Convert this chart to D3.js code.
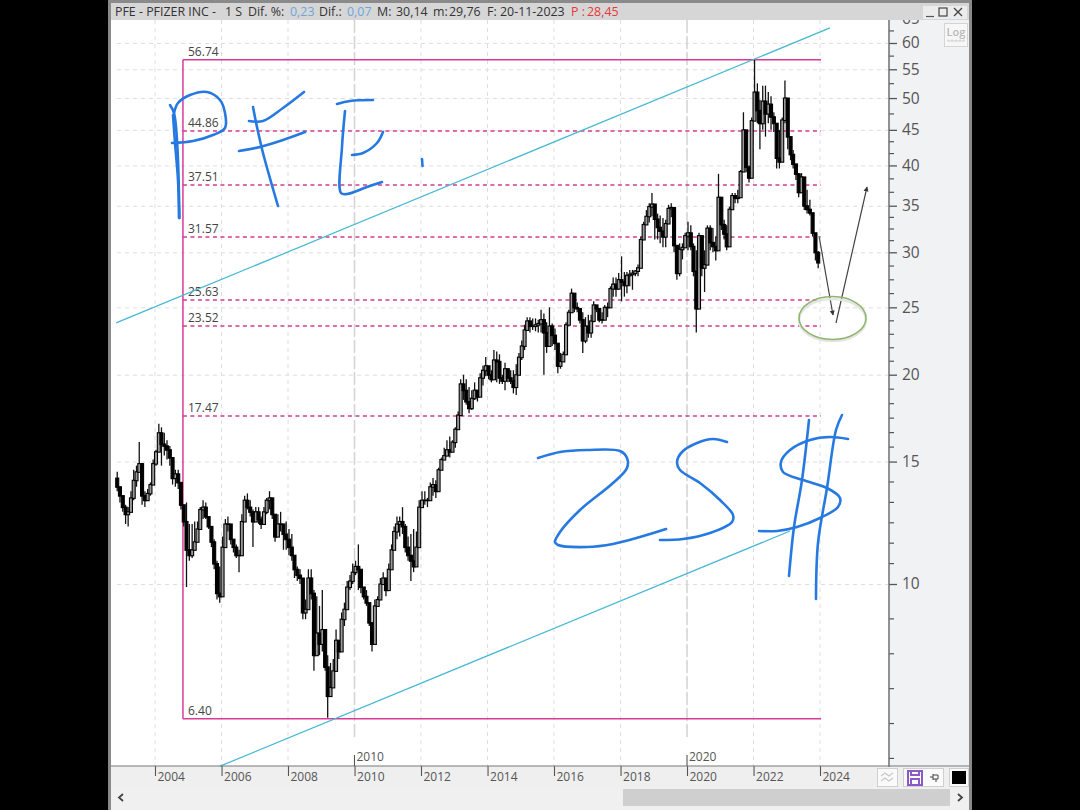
<!DOCTYPE html>
<html><head><meta charset="utf-8">
<script src="https://cdn.jsdelivr.net/npm/d3@7/dist/d3.min.js"></script>
<style>
html,body{margin:0;padding:0;background:#000;overflow:hidden}
text{font-family:"Open Sans",sans-serif}
</style></head><body><svg id="c" width="1080" height="810"></svg>
<script>
// ---- data, monthly summary ----
const firstMonth = new Date(2002, 10, 12);
const highs = [
14.5,13.8,13.3,13.0,12.9,13.6,14.6,14.8,16.0,14.3,
13.6,13.7,14.0,15.1,15.6,17.0,16.8,16.5,16.1,15.8,
14.8,14.6,14.6,13.9,13.0,13.1,12.2,12.2,12.3,12.3,
12.9,13.2,13.1,12.4,12.1,11.6,10.8,10.6,11.7,12.4,
12.5,12.0,11.6,11.4,11.2,12.6,13.4,13.5,13.2,12.8,
12.9,12.9,12.5,12.9,13.3,13.6,13.0,12.4,12.6,12.7,
12.2,12.3,12.0,11.8,10.9,10.6,10.5,10.1,9.5,10.5,
10.5,9.8,9.6,9.3,9.8,8.3,7.9,7.7,7.8,8.6,
8.3,9.1,9.4,10.1,10.3,10.7,10.8,11.4,10.2,9.9,
9.8,9.2,8.8,9.5,9.6,10.2,10.4,10.0,10.7,11.4,
12.1,12.5,12.5,12.9,12.2,11.7,11.8,12.0,11.9,13.2,
13.6,13.6,13.3,14.0,14.2,14.1,14.7,15.2,15.7,16.1,
16.3,16.1,16.8,17.7,19.7,20.0,19.7,19.2,19.0,19.5,
19.0,20.1,20.6,21.2,20.3,20.3,21.7,21.6,21.4,20.0,
20.8,20.3,20.3,20.3,20.7,21.5,22.4,23.6,24.2,24.2,
24.1,24.1,24.0,24.8,24.5,23.8,25.0,23.7,23.3,21.7,
21.5,21.6,23.8,24.8,26.6,25.9,25.4,24.6,24.6,24.2,
24.4,24.4,25.5,25.2,24.6,24.6,25.2,25.4,26.8,27.6,
27.6,28.0,29.6,28.1,28.1,28.3,28.3,28.3,28.8,31.6,
33.2,34.5,35.3,36.5,34.1,34.1,33.9,33.6,33.4,35.1,
35.3,33.7,29.6,30.9,30.9,32.0,33.2,32.8,30.9,30.2,
32.0,29.6,30.2,32.8,32.8,32.5,31.6,38.9,33.7,33.4,
32.8,34.9,36.5,36.5,36.9,39.4,47.7,40.4,40.0,46.9,
56.74,52.5,49.7,52.1,52.1,51.0,50.3,47.7,45.0,45.0,
46.9,53.0,49.7,42.5,42.1,39.9,39.0,39.0,36.9,36.9,
35.7,33.7,30.9,30.14];
const lows = [
13.6,13.1,12.7,12.2,12.1,12.8,13.2,13.8,14.6,13.0,
12.9,13.2,13.4,13.9,14.8,15.6,14.8,15.3,15.1,14.8,
13.9,13.8,13.7,12.8,12.1,9.9,10.8,10.9,11.2,11.6,
12.2,12.4,12.4,12.0,11.3,10.5,9.5,9.4,10.5,11.8,
11.9,11.4,11.1,10.9,10.4,11.3,12.6,12.8,12.5,11.3,
12.3,12.2,12.0,12.3,12.6,12.8,12.4,11.5,11.8,11.9,
11.2,11.2,11.0,10.8,10.2,10.1,10.0,8.9,8.9,9.3,
9.5,7.5,8.0,7.9,8.0,7.5,6.42,6.9,7.3,7.6,
7.8,8.3,8.7,9.3,9.8,10.0,10.3,9.8,9.7,9.5,
9.3,8.7,8.0,8.6,9.3,9.6,10.0,9.6,10.0,10.7,
11.3,11.6,11.7,11.8,11.1,10.8,10.1,10.4,11.1,12.1,
12.9,13.0,12.9,13.4,13.4,13.3,14.1,14.8,15.1,15.3,
15.2,15.7,15.7,17.0,18.0,18.4,18.1,17.6,17.8,18.4,
18.3,18.6,19.3,19.9,19.7,19.5,20.0,19.5,19.4,19.4,
19.0,19.5,19.4,18.8,18.7,20.5,21.0,21.7,23.2,23.0,
23.2,23.1,23.0,23.0,20.0,21.5,22.0,22.0,21.7,20.1,
20.4,20.9,22.8,24.0,25.0,24.6,24.6,23.7,21.5,22.2,
22.6,22.6,23.8,24.6,23.8,23.7,24.2,24.2,25.4,25.9,
25.9,26.5,25.5,25.9,26.2,26.8,26.5,27.7,27.7,28.6,
32.0,32.9,33.1,33.8,31.3,31.3,30.9,30.5,30.5,33.2,
33.7,30.0,27.4,27.7,29.3,30.5,30.2,30.2,27.7,23.0,
30.0,27.7,26.3,30.5,30.2,30.0,29.2,33.2,32.3,31.3,
30.2,32.8,34.9,35.3,35.3,36.5,39.6,39.1,37.8,40.7,
49.7,46.0,42.2,45.0,44.0,46.0,45.0,44.7,39.6,39.6,
45.0,46.0,42.2,40.7,39.6,38.1,36.0,37.2,34.5,34.1,
33.9,31.6,29.2,28.45];
const closes = [
13.8,13.4,12.9,12.6,12.7,13.3,14.1,14.5,14.9,13.4,
13.2,13.5,13.9,14.9,15.5,16.5,15.9,15.8,15.6,15.2,
14.2,14.4,14.0,13.0,12.3,11.2,11.0,11.2,11.5,12.0,
12.8,12.9,12.5,12.1,11.5,10.7,9.7,9.6,11.3,12.2,
12.2,11.6,11.3,11.0,11.0,12.3,13.2,12.9,12.7,12.3,
12.7,12.4,12.2,12.7,13.2,13.3,12.6,11.7,12.2,12.2,
11.8,11.6,11.3,11.0,10.5,10.3,10.2,9.1,9.2,10.2,
9.7,7.9,8.5,8.2,8.6,7.6,6.9,7.1,7.5,8.3,
8.0,8.9,9.2,9.9,10.1,10.4,10.6,10.5,9.9,9.6,
9.4,8.8,8.2,9.3,9.5,10.0,10.2,9.8,10.5,11.2,
11.9,12.2,12.3,12.1,11.3,11.0,10.8,10.6,11.3,12.9,
13.2,13.2,13.2,13.8,13.9,13.6,14.6,15.1,15.3,15.6,
15.5,16.0,16.7,17.5,19.4,19.0,18.3,17.9,18.5,19.0,
18.6,19.8,20.3,20.6,20.0,19.7,21.0,20.9,19.8,19.6,
20.4,19.8,19.6,19.2,20.0,21.2,22.0,23.2,23.9,23.5,
23.5,23.6,23.7,24.0,23.0,22.0,23.5,22.8,22.2,20.6,
20.9,21.4,23.6,24.6,26.2,25.0,24.9,24.0,22.4,23.5,
23.0,23.9,25.2,24.9,24.0,24.0,25.0,25.0,26.6,27.0,
26.6,27.4,27.2,26.9,27.8,27.9,28.0,28.2,28.5,31.3,
32.9,33.8,34.9,35.2,33.5,32.6,32.2,31.6,33.0,34.7,
34.8,30.7,28.0,30.3,30.5,31.7,32.0,30.6,28.2,24.9,
31.7,28.5,28.8,32.5,31.0,30.6,30.2,36.0,32.9,31.9,
30.6,34.6,36.2,35.9,36.0,39.2,45.0,39.8,38.4,46.4,
51.0,48.0,46.0,49.5,47.5,49.0,47.0,46.0,41.0,40.5,
46.5,50.0,44.0,41.5,40.2,38.9,36.6,38.5,35.0,34.6,
34.2,32.0,30.0,29.0];
const firstOpen = 14.2;

const priceTicks = [65,60,55,50,45,40,35,30,25,20,15,10];
const bottomPrice = 5;
const minorCounts = [1,1,1,1,2,2,3,3,4,5,5,5];
const yearTicks = [2004,2006,2008,2010,2012,2014,2016,2018,2020,2022,2024];
const decadeTicks = [2010,2020];
const fibSolid = [56.74,6.40];
const fibDashed = [44.86,37.51,31.57,25.63,23.52,17.47];
const fibStartYear = 2004.84, fibEndYear = 2024.03;
const channelUpper = [[2002.83,23.74],[2024.3,63.07]];
const channelLower = [[2005.955,5.47],[2023.1,11.92]];

// ---- scales ----
const x = d3.scaleTime().domain([new Date(2004,0,1),new Date(2024,0,1)]).range([155,820]);
const xYear = yr => x(new Date(2004,0,1).getTime()) + (yr-2004)*(x(new Date(2024,0,1))-x(new Date(2004,0,1)))/20;
const y = d3.scaleLog().domain([10,60]).range([584,43]);
const months = closes.map((_,i)=>d3.timeMonth.offset(firstMonth,i));

const svg = d3.select('#c');
const ink = '#2679e0', grey='#555';

// window chrome
svg.append('rect').attr('x',108).attr('y',0).attr('width',864).attr('height',810).attr('fill','#8a8a8a');
svg.append('rect').attr('x',111).attr('y',3).attr('width',858).attr('height',807).attr('fill','#f1f2f4');
svg.append('rect').attr('x',111).attr('y',3).attr('width',858).attr('height',17).attr('fill','#d6d6d6');
svg.append('rect').attr('x',111).attr('y',20).attr('width',778).attr('height',746).attr('fill','#fff');
svg.append('rect').attr('x',111).attr('y',767).attr('width',858).attr('height',21).attr('fill','#efefef');
svg.append('rect').attr('x',111).attr('y',788).attr('width',858).attr('height',22).attr('fill','#f0f0f0');
svg.append('rect').attr('x',623).attr('y',789).attr('width',327).attr('height',17).attr('fill','#cfcfcf');

// title
const title = [
 ['PFE - PFIZER INC -',115,'#333'],['1 S',225,'#333'],['Dif. %:',248,'#333'],['0,23',290,'#6fa5dc'],
 ['Dif.:',319,'#333'],['0,07',347,'#6fa5dc'],['M:',377,'#333'],['30,14',396,'#333'],['m:',433,'#333'],
 ['29,76',449,'#333'],['F:',487,'#333'],['20-11-2023',500,'#333'],['P :',571,'#e53935'],['28,45',587,'#e53935']];
svg.append('g').selectAll('text').data(title).join('text')
  .attr('x',d=>d[1]).attr('y',16).attr('font-size',12.4).attr('fill',d=>d[2]).text(d=>d[0]);

// window buttons
svg.append('rect').attr('x',923).attr('y',6).attr('width',44).attr('height',13).attr('fill','#ececec');
svg.append('path').attr('d','M926 16.5h8').attr('stroke','#555').attr('stroke-width',1.2);
svg.append('rect').attr('x',939).attr('y',8).attr('width',8).attr('height',8).attr('fill','none').attr('stroke','#444').attr('stroke-width',1.2);
svg.append('path').attr('d','M954 8l8 8M962 8l-8 8').attr('stroke','#444').attr('stroke-width',1.3);

// grid
const grid = svg.append('g');
grid.selectAll('.h').data(priceTicks.slice(1)).join('line').attr('x1',117).attr('x2',888)
  .attr('y1',d=>y(d)+.5).attr('y2',d=>y(d)+.5).attr('stroke','#dedede').attr('stroke-dasharray','4 4');
grid.selectAll('.v').data(yearTicks).join('line')
  .attr('x1',d=>xYear(d)).attr('x2',d=>xYear(d)).attr('y1',20)
  .attr('y2',d=>decadeTicks.includes(d)?740:766)
  .attr('stroke',d=>decadeTicks.includes(d)?'#d2d2d2':'#dedede')
  .attr('stroke-width',d=>decadeTicks.includes(d)?1.5:1)
  .attr('stroke-dasharray',d=>decadeTicks.includes(d)?'13 3':'4 4');

// fib
const fib = svg.append('g');
const fibColor = '#d93a96';
fib.selectAll('.s').data(fibSolid).join('line').attr('x1',xYear(fibStartYear)).attr('x2',xYear(fibEndYear))
  .attr('y1',d=>y(d)).attr('y2',d=>y(d)).attr('stroke',fibColor).attr('stroke-width',1.5);
fib.append('line').attr('x1',xYear(fibStartYear)).attr('x2',xYear(fibStartYear))
  .attr('y1',y(fibSolid[0])).attr('y2',y(fibSolid[1])).attr('stroke',fibColor).attr('stroke-width',1.5);
fib.selectAll('.d').data(fibDashed).join('line').attr('x1',xYear(fibStartYear)).attr('x2',xYear(fibEndYear))
  .attr('y1',d=>Math.round(y(d))).attr('y2',d=>Math.round(y(d))).attr('stroke','#d43d8e').attr('stroke-width',1.6).attr('stroke-dasharray','4 3.5');
fib.selectAll('text').data(fibSolid.concat(fibDashed)).join('text')
  .attr('x',188).attr('y',d=>y(d)-4).attr('font-size',12).attr('fill','#444').text(d=>d.toFixed(2));

// channels
const chan = d3.line().x(d=>xYear(d[0])).y(d=>y(d[1]));
svg.selectAll('.chan').data([channelUpper,channelLower]).join('path')
  .attr('d',chan).attr('fill','none').attr('stroke','#45b7d3').attr('stroke-width',1.25);

// candles
const W = 3;
const candles = svg.append('g').selectAll('g').data(months).join('g');
candles.append('line').attr('x1',d=>x(d)).attr('x2',d=>x(d))
  .attr('y1',(d,i)=>y(highs[i])).attr('y2',(d,i)=>y(lows[i])).attr('stroke','#111').attr('stroke-width',1.3);
candles.append('rect').attr('x',d=>x(d)-W/2).attr('width',W)
  .attr('y',(d,i)=>y(Math.max(closes[i],i?closes[i-1]:firstOpen)))
  .attr('height',(d,i)=>Math.abs(y(closes[i])-y(i?closes[i-1]:firstOpen))+.5)
  .attr('fill',(d,i)=>closes[i]>(i?closes[i-1]:firstOpen)?'#9a9a9a':'#000')
  .attr('stroke','#000').attr('stroke-width',1.1);

// price axis
const axisClip = svg.append('clipPath').attr('id','ac');
axisClip.append('rect').attr('x',889).attr('y',20).attr('width',60).attr('height',746);
const yAxis = d3.axisRight(y).tickValues(priceTicks).tickFormat(d3.format('d')).tickSize(8).tickPadding(5);
const ya = svg.append('g').attr('clip-path','url(#ac)').append('g').attr('transform','translate(889,0)').call(yAxis);
ya.select('.domain').remove();
ya.selectAll('line').attr('stroke','#555').attr('stroke-width',1.3);
ya.selectAll('text').attr('font-size',15.5).attr('fill',grey).attr('font-family','"Open Sans",sans-serif');
const stops = priceTicks.concat([bottomPrice]);
const minors = minorCounts.flatMap((n,i)=>d3.range(1,n+1).map(k=>y(stops[i])+(y(stops[i+1])-y(stops[i]))*k/(n+1)));
svg.append('g').attr('clip-path','url(#ac)').selectAll('line').data(minors).join('line')
  .attr('x1',889).attr('x2',894).attr('y1',d=>d).attr('y2',d=>d).attr('stroke','#555').attr('stroke-width',1.2);
svg.append('line').attr('x1',889).attr('x2',889).attr('y1',20).attr('y2',767).attr('stroke','#666').attr('stroke-width',1.4);

// time axis
const xAxis = d3.axisBottom(x).tickValues(yearTicks.map(d=>new Date(d,0,1))).tickFormat(d3.timeFormat('%Y')).tickSize(10);
const xa = svg.append('g').attr('transform','translate(0,766)').call(xAxis);
xa.select('.domain').remove();
xa.selectAll('line').attr('stroke','#555').attr('stroke-width',1.1);
xa.selectAll('text').attr('font-size',12).attr('fill',grey).attr('text-anchor','start').attr('x',2).attr('y',6).attr('dy','.71em')
  .attr('font-family','"Open Sans",sans-serif');
svg.append('line').attr('x1',111).attr('x2',969).attr('y1',766).attr('y2',766).attr('stroke','#777').attr('stroke-width',1.2);
const dec = svg.append('g').selectAll('g').data(decadeTicks).join('g').attr('transform',d=>`translate(${xYear(d)},766)`);
dec.append('line').attr('y1',-11).attr('y2',0).attr('stroke','#555').attr('stroke-width',1.1);
dec.append('text').attr('x',2).attr('y',-5).attr('font-size',12).attr('fill',grey).text(d=>d);

// Hand-drawn notes on the picture
const inkStrokes = [
 [[170,105],[174,113],[177,140],[179.5,218]],
 [[173,115],[175,143],[178,180],[179,218]],
 [[174,113],[178,103],[190,95],[207,92],[220,100],[225,113],[225,128],[213,135],[193,141],[172,143]],
 [[253,107],[257,127],[263,153],[278,206]],
 [[249,121],[263,121],[283,108],[304,92]],
 [[239,151],[260,147],[283,140],[305,132]],
 [[337,104],[350,101],[373,100]],
 [[345,111],[342,147],[341,193],[347,194],[367,187],[382,182]],
 [[352,155],[363,153],[377,143],[383,132]],
 [[422,159],[422.5,166]],
 [[538,458],[560,452],[587,450],[620,451],[627,458],[627,468],[613,483],[580,510],[560,532],[555,542],[558,545],[587,547],[613,544],[640,537],[666,529]],
 [[727,442],[713,439],[697,443],[682,452],[677,462],[680,470],[700,483],[720,500],[733,515],[732,522],[710,533],[683,539],[660,540]],
 [[848,439],[830,437],[810,440],[790,450],[781,462],[783,472],[803,480],[827,488],[840,498],[838,507],[820,518],[797,527],[777,531],[759,531]],
 [[809,420],[802,480],[794,527],[789,576]],
 [[842,415],[836,430],[827,488],[818,543],[816,599]]
];
const inkLine = d3.line().curve(d3.curveCatmullRom.alpha(.5));
svg.append('g').selectAll('path').data(inkStrokes).join('path').attr('d',inkLine)
  .attr('fill','none').attr('stroke',ink).attr('stroke-width',2.6).attr('stroke-linecap','round').attr('stroke-linejoin','round');

// arrows and circle
const defs = svg.append('defs');
defs.append('marker').attr('id','ah').attr('viewBox','0 0 8 8').attr('refX',7).attr('refY',4)
  .attr('markerWidth',5).attr('markerHeight',6).attr('markerUnits','userSpaceOnUse').attr('orient','auto')
  .append('path').attr('d','M0 0L8 4L0 8z').attr('fill','#333');
const arrows = [[819,236,833,315],[836,323,867,187]];
svg.append('g').selectAll('line').data(arrows).join('line').attr('x1',d=>d[0]).attr('y1',d=>d[1]).attr('x2',d=>d[2]).attr('y2',d=>d[3])
  .attr('stroke','#444').attr('stroke-width',1.2).attr('marker-end','url(#ah)');
svg.append('ellipse').attr('cx',832.5).attr('cy',320).attr('rx',33.5).attr('ry',21).attr('fill','none').attr('stroke','#e4e4e4').attr('stroke-width',2.5);
svg.append('ellipse').attr('cx',832.5).attr('cy',318).attr('rx',33.5).attr('ry',21.5).attr('fill','none').attr('stroke','#8db56a').attr('stroke-width',1.5);

// Log button
svg.append('rect').attr('x',944.5).attr('y',23.5).attr('width',23).attr('height',23).attr('fill','#f7f7f7').attr('stroke','#d4d4d4');
svg.append('text').attr('x',956).attr('y',36).attr('text-anchor','middle').attr('font-size',11).attr('font-weight',600).attr('fill','#b9b9b9').text('Log');
svg.append('path').attr('d','M947.5 41h17M948 39.5v1.5M952 39.5v1.5M956 39.5v1.5M960 39.5v1.5M964 39.5v1.5').attr('stroke','#ccc').attr('fill','none');

// bottom buttons
const bb = svg.append('g');
bb.append('rect').attr('x',877.5).attr('y',768.5).attr('width',20).attr('height',18).attr('fill','#fafafa').attr('stroke','#cfcfcf');
bb.append('path').attr('d','M881 776l4-3 4 3 4-3M881 781l4-3 4 3 4-3').attr('fill','none').attr('stroke','#c8c8c8').attr('stroke-width',1.3);
bb.append('rect').attr('x',903.5).attr('y',768.5).attr('width',40).attr('height',18).attr('fill','#fafafa').attr('stroke','#cfcfcf');
bb.append('path').attr('d','M908 771h14v14h-14zM911 771v4h8v-4M911 785v-6h8v6').attr('fill','#fff').attr('stroke','#8a5ac8').attr('stroke-width',2);
bb.append('path').attr('d','M930 777h3M933 774v6M933 775h5v4h-5M936 779v3').attr('fill','none').attr('stroke','#444');
bb.append('rect').attr('x',949.5).attr('y',768.5).attr('width',19).attr('height',18).attr('fill','#fafafa').attr('stroke','#cfcfcf');
bb.append('rect').attr('x',952).attr('y',771).attr('width',14).attr('height',13).attr('fill','#000');

// scroll arrows
svg.append('path').attr('d','M123 794l-4 3.5 4 3.5').attr('fill','none').attr('stroke','#444').attr('stroke-width',1.8);
svg.append('path').attr('d','M958 794l4 3.5-4 3.5').attr('fill','none').attr('stroke','#444').attr('stroke-width',1.8);
</script></body></html>
